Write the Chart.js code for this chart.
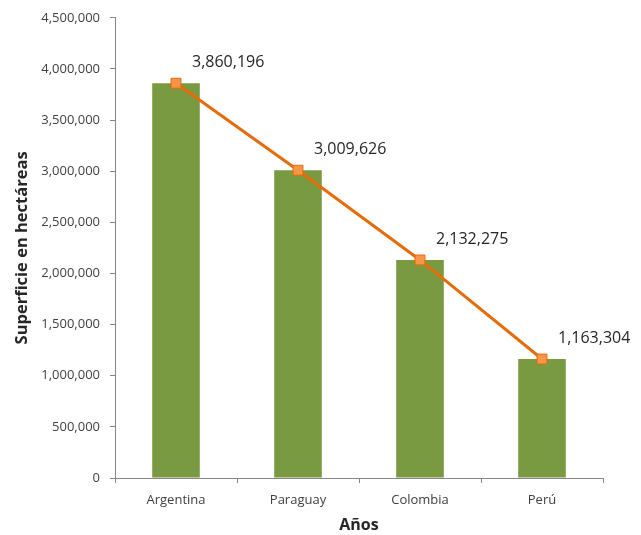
<!DOCTYPE html>
<html>
<head>
<meta charset="utf-8">
<script src="https://cdn.jsdelivr.net/npm/chart.js@4/dist/chart.umd.min.js"></script>
<style>
  html, body { margin: 0; padding: 0; background: #ffffff; }
  #wrap { width: 641px; height: 535px; }
</style>
</head>
<body>
<div id="wrap"><canvas id="myChart" width="641" height="535"></canvas></div>
<script>
var paises = ['Argentina', 'Paraguay', 'Colombia', 'Perú'];
var superficie = [3860196, 3009626, 2132275, 1163304];
var ejeMax = 4500000;
var ejePaso = 500000;

var fmt = function(v) { return Number(v).toLocaleString('en-US'); };

// etiquetas de valor arriba a la derecha de cada punto de la linea
var etiquetas = {
    id: 'etiquetas',
    afterDatasetsDraw: function(chart) {
        var ctx = chart.ctx;
        var meta = chart.getDatasetMeta(1);
        ctx.save();
        ctx.font = '16px "Open Sans"';
        ctx.fillStyle = '#262626';
        ctx.textAlign = 'left';
        ctx.textBaseline = 'middle';
        meta.data.forEach(function(pt, i) {
            ctx.fillText(fmt(chart.data.datasets[1].data[i]), pt.x + 16, pt.y - 21);
        });
        ctx.restore();
    }
};

window.addEventListener('load', function() {
    var chart = document.getElementById('myChart');
    Chart.defaults.font.family = '"Open Sans"';

    var Barras = {
        type: 'bar',
        data: superficie,
        backgroundColor: '#799A41',
        categoryPercentage: 1.0,
        barPercentage: 0.39,
        order: 2
    };

    var Linea = {
        type: 'line',
        data: superficie,
        borderColor: '#E46C0A',
        borderWidth: 3,
        pointStyle: 'rect',
        pointRadius: 7,
        pointBackgroundColor: '#F79646',
        pointBorderColor: '#E46C0A',
        pointBorderWidth: 1,
        tension: 0,
        order: 1
    };

    new Chart(chart, {
        data: {
            labels: paises,
            datasets: [Barras, Linea]
        },
        options: {
            responsive: false,
            animation: false,
            layout: { padding: { top: 16, right: 38, left: 0, bottom: 0 } },
            plugins: {
                legend: { display: false },
                tooltip: { enabled: false }
            },
            scales: {
                x: {
                    afterFit: function(s) { s.height = 57; },
                    grid: {
                        drawOnChartArea: false,
                        tickLength: 5,
                        color: '#868686',
                        offset: true
                    },
                    border: { color: '#868686', width: 1 },
                    ticks: {
                        color: '#404040',
                        font: { size: 13 },
                        padding: 9
                    },
                    title: {
                        display: true,
                        text: 'Años',
                        color: '#262626',
                        font: { size: 16, weight: 'bold' },
                        padding: { top: 0, bottom: 0 }
                    }
                },
                y: {
                    min: 0,
                    max: ejeMax,
                    afterFit: function(s) { s.width = 115; },
                    grid: {
                        drawOnChartArea: false,
                        tickLength: 5,
                        color: '#868686'
                    },
                    border: { color: '#868686', width: 1 },
                    ticks: {
                        stepSize: ejePaso,
                        color: '#404040',
                        font: { size: 13 },
                        padding: 10,
                        callback: function(v) { return fmt(v); }
                    },
                    title: {
                        display: true,
                        text: 'Superficie en hectáreas',
                        color: '#262626',
                        font: { size: 16.5, weight: 'bold' },
                        padding: { top: 12, bottom: 0 }
                    }
                }
            }
        },
        plugins: [etiquetas]
    });
});
</script>
</body>
</html>
